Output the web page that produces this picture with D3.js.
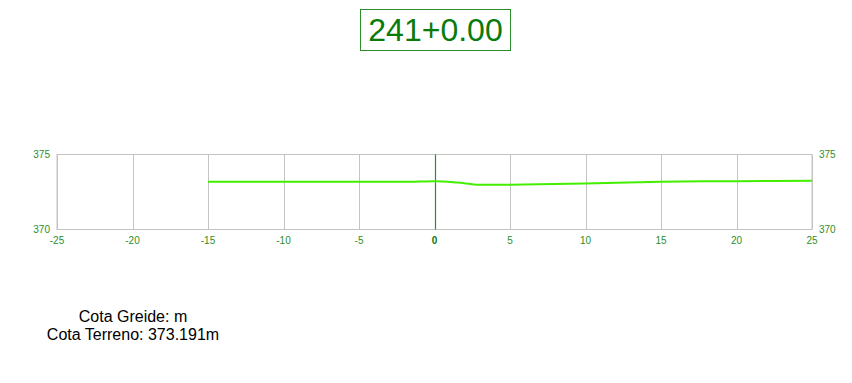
<!DOCTYPE html>
<html><head><meta charset="utf-8">
<script src="https://cdn.jsdelivr.net/npm/d3@7/dist/d3.min.js"></script>
<style>body{margin:0;background:#fff}svg{display:block}text{font-family:"Liberation Sans",Arial,sans-serif}</style>
</head><body><svg id="c" width="852" height="383"></svg>
<script>
const title = "241+0.00";
const xTicks = [-25,-20,-15,-10,-5,0,5,10,15,20,25];
const yTicks = [370,375];
const terrainX = [-15,-10,-5,-2,0,1.5,3,5,8,10,13.5,15,20,25];
const terrainY = [373.19,373.18,373.18,373.18,373.22,373.13,372.98,372.99,373.04,373.07,373.15,373.19,373.22,373.25];
const infoLines = ["Cota Greide: m","Cota Terreno: 373.191m"];

const svg = d3.select("#c");
const x = d3.scaleLinear().domain([-25,25]).range([57,812]);
const y = d3.scaleLinear().domain([370,375]).range([229.5,154.5]);

// title box
const tg = svg.append("g");
tg.append("rect").attr("x",360.5).attr("y",9.5).attr("width",150).attr("height",41)
  .attr("fill","none").attr("stroke","#2a8f2a").attr("stroke-width",1);
tg.append("text").attr("x",435.5).attr("y",41).attr("text-anchor","middle")
  .attr("font-size",32).attr("fill","#0a7a0a").text(title);

// grid
svg.append("g").selectAll("line").data(xTicks.filter(d=>d!==0)).join("line")
  .attr("x1",d=>Math.round(x(d))+0.5).attr("x2",d=>Math.round(x(d))+0.5)
  .attr("y1",y(375)).attr("y2",y(370)).attr("stroke","#c4c4c4").attr("stroke-width",1);
svg.append("rect").attr("x",x(-25)).attr("y",y(375)).attr("width",x(25)-x(-25)).attr("height",y(370)-y(375))
  .attr("fill","none").attr("stroke","#c4c4c4").attr("stroke-width",1);

// center line
svg.append("line").attr("x1",Math.round(x(0))+0.5).attr("x2",Math.round(x(0))+0.5)
  .attr("y1",y(375)).attr("y2",y(370)).attr("stroke","#2a8f2a").attr("stroke-width",1.2);

// x tick labels
svg.append("g").selectAll("text").data(xTicks).join("text")
  .attr("x",d=>x(d)).attr("y",244).attr("text-anchor","middle")
  .attr("font-size",10).attr("font-weight",d=>d===0?"bold":"normal")
  .attr("fill",d=>d===0?"#0a7a0a":"#2a8f2a").text(d=>d);

// y tick labels left & right
svg.append("g").selectAll("text").data(yTicks).join("text")
  .attr("x",50).attr("y",d=>y(d)+3.5).attr("text-anchor","end")
  .attr("font-size",10).attr("fill","#2a8f2a").text(d=>d);
svg.append("g").selectAll("text").data(yTicks).join("text")
  .attr("x",819).attr("y",d=>y(d)+3.5).attr("text-anchor","start")
  .attr("font-size",10).attr("fill","#2a8f2a").text(d=>d);

// terrain line
const pts = terrainX.map((v,i)=>[v,terrainY[i]]);
svg.append("path").datum(pts)
  .attr("d",d3.line().x(d=>x(d[0])).y(d=>y(d[1])).curve(d3.curveMonotoneX))
  .attr("fill","none").attr("stroke","#44ee00").attr("stroke-width",2);

// info text
svg.append("g").selectAll("text").data(infoLines).join("text")
  .attr("x",133).attr("y",(d,i)=>322+i*18).attr("text-anchor","middle")
  .attr("font-size",16).attr("fill","#000").text(d=>d);
</script></body></html>
